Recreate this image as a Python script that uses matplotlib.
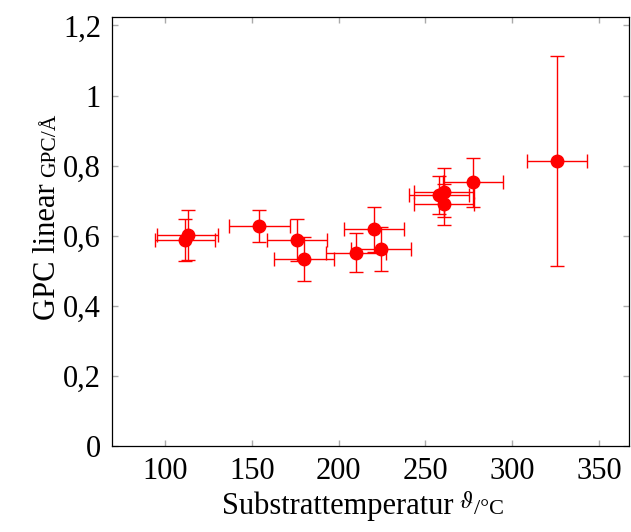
import matplotlib.pyplot as plt
import numpy as np

plt.rcParams['font.family'] = ['Liberation Serif', 'DejaVu Serif']
plt.rcParams['mathtext.fontset'] = 'stix'

temp = [111.5, 113.0, 154.3, 176.2, 180.0, 210.2, 220.2, 224.6, 258.0, 260.9, 260.9, 277.2, 325.8]
gpc = [0.587, 0.602, 0.627, 0.589, 0.534, 0.552, 0.618, 0.562, 0.716, 0.724, 0.690, 0.752, 0.814]
temp_err = [17.3, 17.3, 17.5, 17.3, 17.4, 17.4, 17.3, 17.3, 17.3, 17.3, 17.3, 17.3, 17.4]
gpc_err = [0.060, 0.070, 0.046, 0.060, 0.062, 0.055, 0.064, 0.062, 0.053, 0.070, 0.058, 0.070, 0.300]

xticks = [100, 150, 200, 250, 300, 350]
yticks = [0, 0.2, 0.4, 0.6, 0.8, 1.0, 1.2]
ytick_labels = ['0', '0,2', '0,4', '0,6', '0,8', '1', '1,2']

W, H = 631, 532
fig = plt.figure(figsize=(W / 100, H / 100), dpi=100)
ax = fig.add_axes([0.1775, 0.1617, 0.8193, 0.8069])

ax.errorbar(temp, gpc, xerr=temp_err, yerr=gpc_err, fmt='o', color='red',
            ecolor='red', elinewidth=1.0, capsize=5, capthick=1.0, markersize=9)

ax.set_xlim(69.5, 367.3)
ax.set_ylim(0, 1.225)
ax.set_xticks(xticks)
ax.set_yticks(yticks)
ax.set_yticklabels(ytick_labels)

ax.tick_params(direction='in', length=4, color='#aaaaaa', width=1,
               top=True, right=True, labelsize=22, pad=8)
for s in ax.spines.values():
    s.set_linewidth(0.9)

# Achsenbeschriftungen: Haupttext + kleinere Einheit (wie \sfrac)
fig.canvas.draw()
r = fig.canvas.get_renderer()

xbase = (H - 514) / H
xl = fig.text(222 / W, xbase, 'Substrattemperatur', fontsize=22,
              ha='left', va='baseline')
x0 = 222 + xl.get_window_extent(r).width + 6
th = fig.text(x0 / W, xbase + 6 / H, r'$\vartheta$', fontsize=17,
              ha='left', va='baseline')
x0 += th.get_window_extent(r).width
fig.text(x0 / W, xbase, '/°C', fontsize=16, ha='left', va='baseline')

yl = fig.text(55 / W, (H - 320) / H, 'GPC linear', fontsize=22, rotation=90,
              rotation_mode='anchor', ha='left', va='baseline')
h = yl.get_window_extent(r).height
fig.text(55 / W, (H - 320 + h + 6) / H, 'GPC/Å', fontsize=15.5, rotation=90,
         rotation_mode='anchor', ha='left', va='baseline')

fig.savefig('out.png', dpi=100)
